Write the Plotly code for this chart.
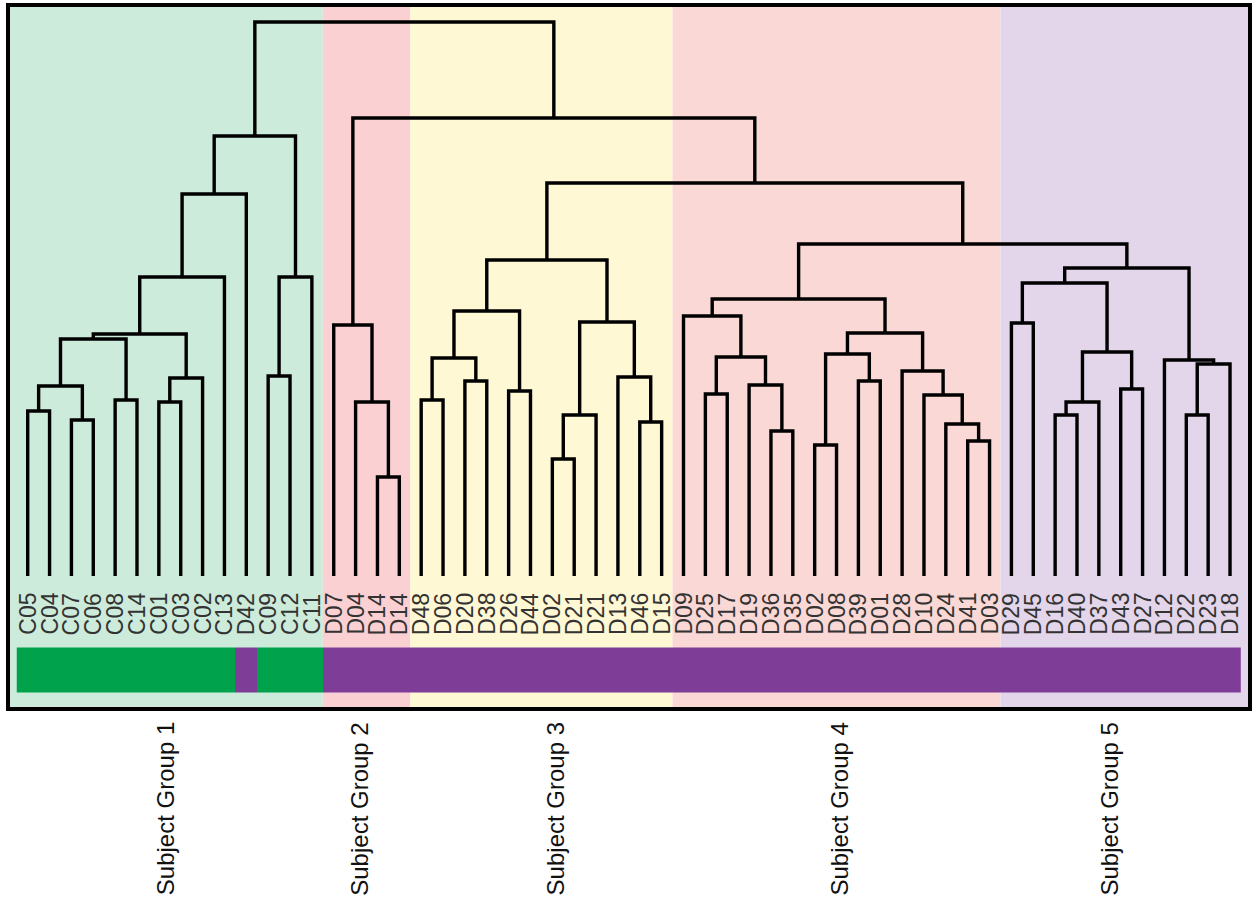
import plotly.graph_objects as go

# ---------------- data ----------------
leaf_labels = [
    "C05", "C04", "C07", "C06", "C08", "C14", "C01", "C03", "C02", "C13", "D42", "C09", "C12", "C11",
    "D07", "D04", "D14", "D14",
    "D48", "D06", "D20", "D38", "D26", "D44", "D02", "D21", "D21", "D13", "D46", "D15",
    "D09", "D25", "D17", "D19", "D36", "D35", "D02", "D08", "D39", "D01", "D28", "D10", "D24", "D41", "D03",
    "D29", "D45", "D16", "D40", "D37", "D43", "D27", "D12", "D22", "D23", "D18",
]

# linkage: leaves are nodes 0..55, merge k creates node 56+k
merge_left = [0, 2, 56, 4, 58, 6, 61, 60, 63, 64, 11, 66, 65,
              16, 15, 14,
              18, 20, 72, 22, 74, 24, 77, 28, 27, 78, 76,
              31, 34, 33, 83, 30, 36, 38, 88, 43, 42, 41, 40, 90, 87,
              45, 47, 98, 50, 99, 97, 53, 103, 52, 102,
              96, 82, 71, 68]
merge_right = [1, 3, 57, 5, 59, 7, 8, 62, 9, 10, 12, 13, 67,
               17, 69, 70,
               19, 21, 73, 23, 75, 25, 26, 29, 79, 80, 81,
               32, 35, 84, 85, 86, 37, 39, 89, 44, 91, 92, 93, 94, 95,
               46, 48, 49, 51, 100, 101, 54, 55, 104, 105,
               106, 107, 108, 109]
merge_height = [1.65, 1.56, 1.90, 1.76, 2.37, 1.74, 1.98, 2.42, 2.99, 3.82, 2.00, 2.99, 4.40,
                0.99, 1.74, 2.51,
                1.76, 1.95, 2.18, 1.85, 2.65, 1.17, 1.61, 1.54, 1.99, 2.54, 3.16,
                1.82, 1.45, 1.91, 2.19, 2.60, 1.31, 1.95, 2.22, 1.35, 1.52, 1.81, 2.05, 2.43, 2.77,
                2.53, 1.61, 1.74, 1.87, 2.24, 2.93, 1.61, 2.12, 2.16, 3.08,
                3.32, 3.93, 4.58, 5.54]

group_names = ["Subject Group 1", "Subject Group 2", "Subject Group 3", "Subject Group 4", "Subject Group 5"]
group_sizes = [14, 4, 12, 15, 11]
group_colors = ["#CCEBDA", "#FAD0D3", "#FFF8D4", "#FAD8D5", "#E3D6EA"]
cohort_colors = ["#00A24B", "#7E3E98"]  # C, D

# ---------------- layout constants ----------------
X_MIN, X_MAX = -0.901, 55.914
Y_MIN, Y_MAX = -1.33, 5.71
GROUP_LABEL_X = [6.3, 15.2, 24.15, 37.15, 49.5]   # label positions under the panels (leaf units)
FONT = "Liberation Sans, Arial, sans-serif"

n = len(leaf_labels)
node_x = list(range(n))
node_h = [0.0] * n
dx, dy = [], []
for l, r, h in zip(merge_left, merge_right, merge_height):
    xl, xr = node_x[l], node_x[r]
    dx += [xl, xl, xr, xr, None]
    dy += [node_h[l], h, h, node_h[r], None]
    node_x.append((xl + xr) / 2)
    node_h.append(h)

fig = go.Figure()

# cohort colour bar
z = [[0 if lab.startswith("C") else 1 for lab in leaf_labels]]
fig.add_trace(go.Heatmap(
    z=z, x=list(range(n)), y0=-0.941, dy=0.452,
    colorscale=[[0, cohort_colors[0]], [0.5, cohort_colors[0]], [0.5, cohort_colors[1]], [1, cohort_colors[1]]],
    zmin=0, zmax=1, showscale=False, hoverinfo="skip",
))

# dendrogram
fig.add_trace(go.Scatter(
    x=dx, y=dy, mode="lines",
    line=dict(color="black", width=3.4),
    hoverinfo="skip", showlegend=False,
))

# group panels
shapes = []
annotations = []
start = -0.5
edges = []
for s in group_sizes:
    edges.append((start, start + s))
    start += s
for gi, ((a, b), col) in enumerate(zip(edges, group_colors)):
    x0 = X_MIN if gi == 0 else a
    x1 = X_MAX if gi == len(edges) - 1 else b
    shapes.append(dict(type="rect", xref="x", yref="paper", x0=x0, x1=x1, y0=0, y1=1,
                       fillcolor=col, line=dict(width=0), layer="below"))
    annotations.append(dict(x=GROUP_LABEL_X[gi], y=-0.016, xref="x", yref="paper", text=group_names[gi],
                            textangle=-90, showarrow=False, xanchor="center", yanchor="top",
                            font=dict(family=FONT, size=24, color="#111111")))

# frame
shapes.append(dict(type="rect", xref="paper", yref="paper", x0=0, x1=1, y0=0, y1=1,
                   line=dict(color="black", width=4), fillcolor="rgba(0,0,0,0)", layer="above"))

for i, lab in enumerate(leaf_labels):
    annotations.append(dict(x=i, y=-0.15, xref="x", yref="y", text=lab, textangle=-90,
                            showarrow=False, xanchor="center", yanchor="top",
                            font=dict(family=FONT, size=23, color="#333333")))

fig.update_layout(
    width=1252, height=901,
    margin=dict(l=8, r=2, t=5, b=192),
    paper_bgcolor="white", plot_bgcolor="white",
    xaxis=dict(range=[X_MIN, X_MAX], visible=False, fixedrange=True),
    yaxis=dict(range=[Y_MIN, Y_MAX], visible=False, fixedrange=True),
    shapes=shapes, annotations=annotations, showlegend=False,
)

fig.write_html("out.html")
